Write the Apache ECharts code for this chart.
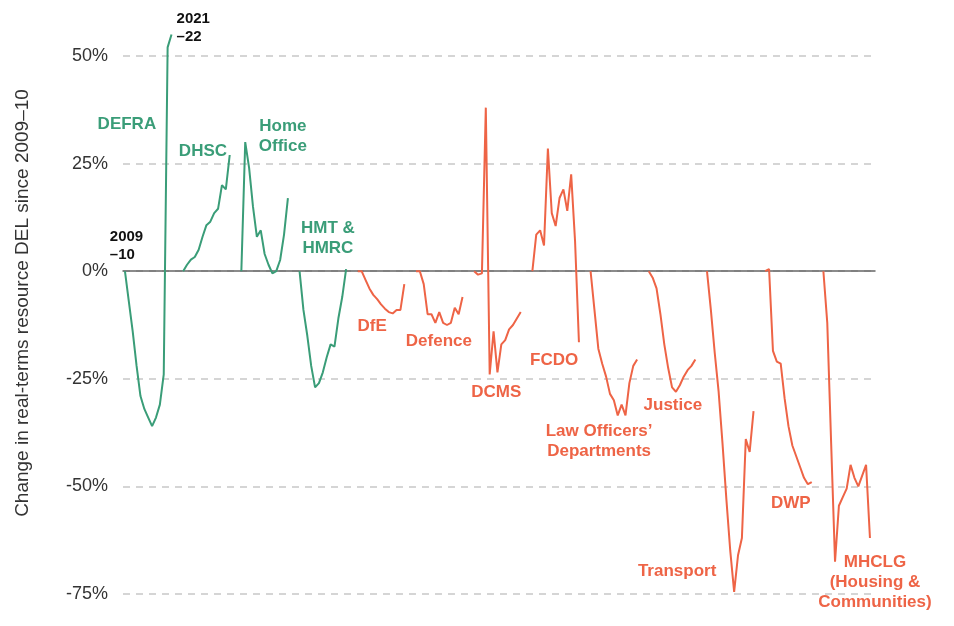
<!DOCTYPE html>
<html>
<head>
<meta charset="utf-8">
<script src="https://cdn.jsdelivr.net/npm/echarts@6/dist/echarts.min.js"></script>
<style>
  html, body { margin: 0; padding: 0; background: #fff; }
  #main { width: 954px; height: 626px; }
</style>
</head>
<body>
<div id="main"></div>
<script>
// real-terms change in resource DEL since 2009-10, one value per year
const years = ['2009–10', '2010–11', '2011–12', '2012–13', '2013–14', '2014–15', '2015–16',
  '2016–17', '2017–18', '2018–19', '2019–20', '2020–21', '2021–22'];

const departments = ['DEFRA', 'DHSC', 'Home Office', 'HMT & HMRC', 'DfE', 'Defence', 'DCMS',
  'FCDO', "Law Officers' Departments", 'Justice', 'Transport', 'DWP', 'MHCLG'];

const defra     = [0, -7, -14, -22, -29, -32, -34, -36, -34, -31, -24, 52, 55];
const dhsc      = [0, 1.5, 2.7, 3.3, 5, 8, 10.7, 11.5, 13.5, 14.5, 20, 19, 27];
const homeOffice = [0, 30, 24, 15, 8, 9.5, 4, 1.5, -0.5, 0, 2.6, 8.5, 17];
const hmt       = [0, -9, -15, -22, -27, -26, -23.5, -20, -17, -17.5, -11, -6, 0.5];
const dfe       = [0, 0, -2, -4, -5.5, -6.5, -7.7, -8.7, -9.5, -9.8, -9, -9, -3];
const defence   = [0, 0, -3, -10, -10, -12, -9.5, -12, -12.5, -12, -8.5, -10, -6];
const dcms      = [0, -0.8, -0.5, 38, -24, -14, -23.5, -17, -16, -13.5, -12.5, -11, -9.5];
const fcdo      = [0, 8.5, 9.5, 6, 28.5, 13.5, 10.5, 17, 19, 14, 22.5, 7, -16.5];
const lawOfficers = [0, -9, -18, -21.5, -24.5, -28.5, -30, -33.5, -31, -33.5, -26, -22, -20.5];
const justice   = [0, -1.5, -4, -10, -17, -22.5, -27, -28, -26.5, -24.5, -23, -22, -20.5];
const transport = [0, -9, -19, -28, -40, -53, -65, -74.5, -66, -62, -39, -42, -32.5];
const dwp       = [0, 0.5, -18.5, -21, -21.5, -29.5, -36, -40.5, -43, -45.5, -48, -49.5, -49];
const mhclg     = [0, -12, -40, -67.5, -54.5, -52.5, -50.5, -45, -48, -50, -47.5, -45, -62];

const values = [defra, dhsc, homeOffice, hmt, dfe, defence, dcms, fcdo,
  lawOfficers, justice, transport, dwp, mhclg];

const yTicks = [-75, -50, -25, 0, 25, 50];

const green = '#3a9d78';
const red = '#ee6446';
const slot = 15; // x units per department (13 years + gap)

var chart = echarts.init(document.getElementById('main'));

var series = values.map(function (vals, d) {
  return {
    name: departments[d],
    type: 'line',
    symbol: 'none',
    clip: false,
    silent: true,
    lineStyle: { width: 2, color: d < 4 ? green : red },
    data: vals.map(function (v, i) { return [d * slot + i, v]; })
  };
});

chart.setOption({
  animation: false,
  grid: { left: 123, right: 79, top: 56, bottom: 32 },
  xAxis: {
    type: 'value',
    min: -0.5,
    max: 193.3,
    axisLine: { show: true, onZero: true, lineStyle: { color: '#666', width: 1.5 } },
    axisTick: { show: false },
    axisLabel: { show: false },
    splitLine: { show: false }
  },
  yAxis: {
    type: 'value',
    min: yTicks[0],
    max: yTicks[yTicks.length - 1],
    interval: 25,
    axisLine: { show: false },
    axisTick: { show: false },
    axisLabel: {
      formatter: function (v) { return v + '%'; },
      fontFamily: 'Liberation Sans',
      fontSize: 18,
      color: '#333',
      margin: 15
    },
    splitLine: { lineStyle: { color: '#c8c8c8', width: 1.5, type: [7, 6] } }
  },
  series: series
});

// annotation anchors in data space: [x units, % value]
var notes = [
  { text: 'DEFRA', at: [0.5, 34.1], c: green },
  { text: 'DHSC', at: [20.1, 27.9], c: green },
  { text: 'Home\nOffice', at: [40.7, 31.4], c: green },
  { text: 'HMT &\nHMRC', at: [52.3, 7.7], c: green },
  { text: 'DfE', at: [63.7, -12.8], c: red },
  { text: 'Defence', at: [80.9, -16.3], c: red },
  { text: 'DCMS', at: [95.7, -28.1], c: red },
  { text: 'FCDO', at: [110.6, -20.6], c: red },
  { text: "Law Officers’\nDepartments", at: [122.2, -39.5], c: red },
  { text: 'Justice', at: [141.2, -31.1], c: red },
  { text: 'Transport', at: [142.3, -69.7], c: red },
  { text: 'DWP', at: [171.6, -53.9], c: red },
  { text: 'MHCLG\n(Housing &\nCommunities)', at: [193.3, -72.4], c: red }
];

var graphics = notes.map(function (n) {
  var p = chart.convertToPixel({ gridIndex: 0 }, n.at);
  return {
    type: 'text', x: p[0], y: p[1], silent: true,
    style: {
      text: n.text, fill: n.c, fontFamily: 'Liberation Sans', fontWeight: 'bold',
      fontSize: 17, lineHeight: 20, textAlign: 'center', textVerticalAlign: 'middle'
    }
  };
});

// first and last year markers
var yearNotes = [
  { text: years[0].replace('–', '\n–'), at: [-3.9, 5.9] },
  { text: years[12].replace('–', '\n–'), at: [13.3, 56.5] }
];
yearNotes.forEach(function (n) {
  var p = chart.convertToPixel({ gridIndex: 0 }, n.at);
  graphics.push({
    type: 'text', x: p[0], y: p[1], silent: true,
    style: {
      text: n.text, fill: '#111', fontFamily: 'Liberation Sans', fontWeight: 'bold',
      fontSize: 15, lineHeight: 18, textAlign: 'left', textVerticalAlign: 'middle'
    }
  });
});

graphics.push({
  type: 'text', x: 23, y: 303, rotation: Math.PI / 2, silent: true,
  style: {
    text: 'Change in real-terms resource DEL since 2009–10', fill: '#333',
    fontFamily: 'Liberation Sans', fontSize: 19,
    textAlign: 'center', textVerticalAlign: 'middle'
  }
});

chart.setOption({ graphic: graphics });
</script>
</body>
</html>
